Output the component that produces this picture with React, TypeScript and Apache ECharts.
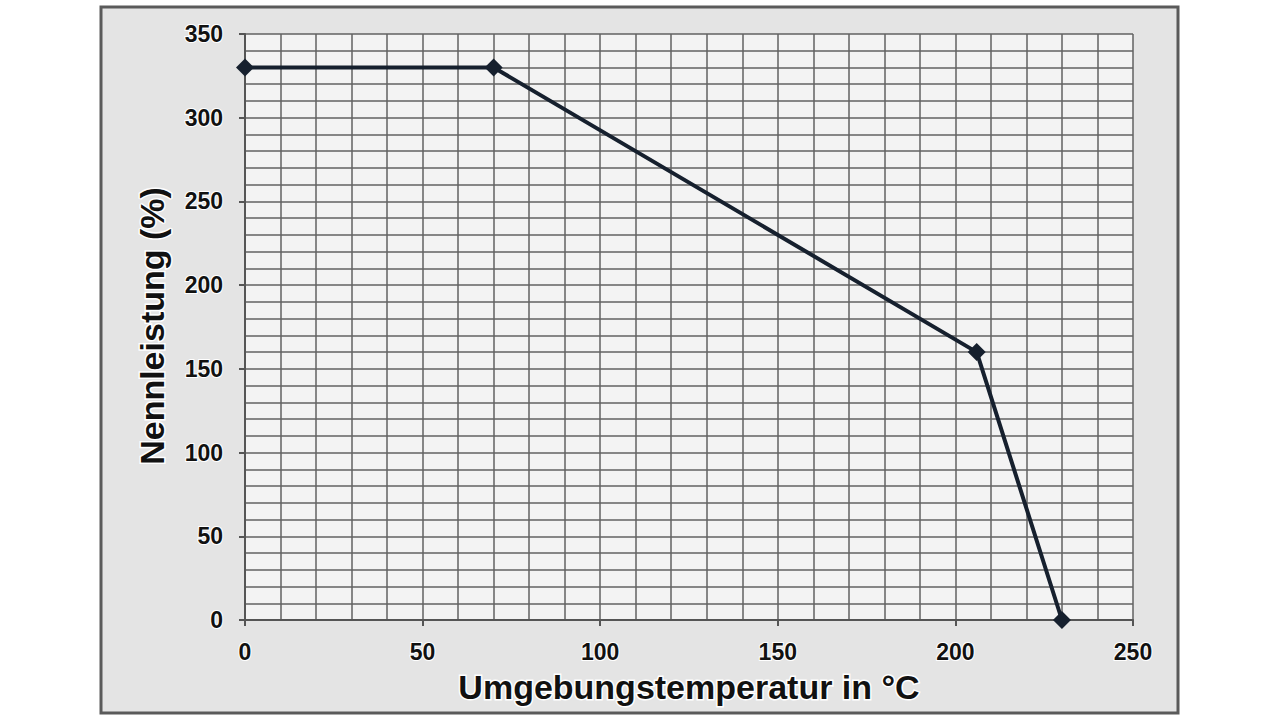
import React, { useEffect, useRef } from "react";
import * as echarts from "echarts";

const temperatures = [0, 70, 206, 230];
const ratedPower = [330, 330, 160, 0];
const xTitle = "Umgebungstemperatur in °C";
const yTitle = "Nennleistung (%)";

export default function App() {
  const ref = useRef<HTMLDivElement>(null);
  useEffect(() => {
    const chart = echarts.init(ref.current!, null, { renderer: "svg" });
    const gridLine = { lineStyle: { color: "#626262", width: 1.5 } };
    const font = "Liberation Sans, Arial, sans-serif";
    const labelStyle = {
      color: "#111",
      fontSize: 23,
      fontWeight: "bold",
      fontFamily: font,
      textBorderColor: "#fff",
      textBorderWidth: 2,
    };
    chart.setOption({
      animation: false,
      backgroundColor: "#ffffff",
      graphic: [
        {
          type: "rect",
          z: -10,
          shape: { x: 101, y: 7, width: 1077, height: 706 },
          style: { fill: "#e4e4e4", stroke: "#5a5a5a", lineWidth: 3 },
          silent: true,
        },
        {
          type: "text",
          x: 152,
          y: 326,
          rotation: Math.PI / 2,
          style: {
            text: yTitle,
            fill: "#111",
            fontSize: 34,
            fontWeight: "bold",
            fontFamily: font,
            align: "center",
            verticalAlign: "middle",
            stroke: "#fff",
            lineWidth: 3,
          },
        },
      ],
      grid: {
        left: 245,
        right: 147,
        top: 34,
        bottom: 99,
        show: true,
        backgroundColor: "#f3f3f3",
        borderWidth: 0,
      },
      xAxis: {
        type: "value",
        min: 0,
        max: 250,
        interval: 50,
        name: xTitle,
        nameLocation: "middle",
        nameGap: 50,
        nameTextStyle: {
          color: "#111",
          fontSize: 34,
          fontWeight: "bold",
          fontFamily: font,
          textBorderColor: "#fff",
          textBorderWidth: 3,
        },
        axisLine: { show: true, lineStyle: { color: "#555", width: 2 } },
        axisTick: { show: true, length: 6, lineStyle: { color: "#555", width: 2 } },
        axisLabel: { ...labelStyle, margin: 20 },
        splitLine: { show: true, ...gridLine },
        minorTick: { show: false, splitNumber: 5 },
        minorSplitLine: { show: true, ...gridLine },
      },
      yAxis: {
        type: "value",
        min: 0,
        max: 350,
        interval: 50,
        axisLine: { show: true, lineStyle: { color: "#555", width: 2 } },
        axisTick: { show: true, length: 6, lineStyle: { color: "#555", width: 2 } },
        axisLabel: { ...labelStyle, margin: 22 },
        splitLine: { show: true, ...gridLine },
        minorTick: { show: false, splitNumber: 5 },
        minorSplitLine: { show: true, ...gridLine },
      },
      series: [
        {
          type: "line",
          data: temperatures.map((t, i) => [t, ratedPower[i]]),
          symbol: "diamond",
          symbolSize: 18,
          itemStyle: { color: "#16202e" },
          lineStyle: { color: "#16202e", width: 4 },
        },
      ],
    });
    return () => chart.dispose();
  }, []);
  return (
    <div
      ref={ref}
      style={{ position: "fixed", left: 0, top: 0, width: 1280, height: 719 }}
    />
  );
}
